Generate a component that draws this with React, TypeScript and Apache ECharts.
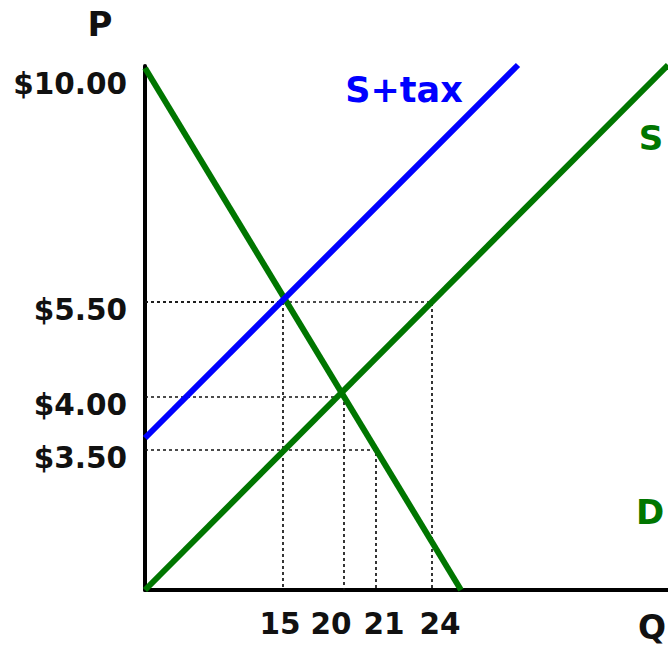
import React, { useEffect, useRef } from "react";
import * as echarts from "echarts";

// Schematic (not-to-scale) tax-incidence diagram.
// Values are placed at positions on the drawn axes (diagram units).
const priceLabels = ["$3.50", "$4.00", "$5.50", "$10.00"];
const pricePositions = [14.0, 19.3, 28.8, 52.2];
const quantityLabels = ["15", "20", "21", "24"];
const quantityPositions = [13.8, 19.9, 23.1, 28.7];

// Curves (diagram units): [quantity position, price position]
const demandPoints = [
  [0, 52.2],
  [31.6, 0],
];
const supplyPoints = [
  [0, 0],
  [52.3, 52.5],
];
const supplyTaxPoints = [
  [0, 15.2],
  [37.3, 52.5],
];

// Dotted guides: [quantity label, price label]
const guidePairs = [
  ["15", "$5.50"],
  ["24", "$5.50"],
  ["20", "$4.00"],
  ["21", "$3.50"],
];

const FONT = "'DejaVu Sans', Verdana, sans-serif";
const GREEN = "#007600";
const BLUE = "#0000ff";

const qPos = (q: string) => quantityPositions[quantityLabels.indexOf(q)];
const pPos = (p: string) => pricePositions[priceLabels.indexOf(p)];

export default function App() {
  const ref = useRef<HTMLDivElement>(null);

  useEffect(() => {
    if (!ref.current) return;
    const chart = echarts.init(ref.current, undefined, { renderer: "svg" });

    const guideSeries = guidePairs.map(([q, p]) => {
      const x = qPos(q);
      const y = pPos(p);
      return {
        type: "line",
        data: [
          [0, y],
          [x, y],
          [x, 0],
        ],
        symbol: "none",
        silent: true,
        z: 1,
        lineStyle: { color: "#111", width: 1.7, type: [3, 3] },
      };
    });

    const numStyle = { fontFamily: FONT, fontWeight: "bold", fontSize: 29.5, color: "#111" };

    const yRichKey = (label: string) => (label === "$10.00" ? "pTop" : "p");
    const xRichKey: Record<string, string> = { "15": "q15", "20": "q20", "21": "q21", "24": "q24" };

    const option: any = {
      animation: false,
      grid: { left: 145, right: 0, top: 66, bottom: 55, containLabel: false },
      xAxis: {
        type: "value",
        min: 0,
        max: 52.3,
        splitLine: { show: false },
        axisTick: { show: false },
        axisLine: { show: true, lineStyle: { color: "#000", width: 4 } },
        axisLabel: {
          customValues: quantityPositions,
          margin: 34,
          verticalAlign: "middle",
          showMinLabel: true,
          showMaxLabel: true,
          formatter: (v: number) => {
            const i = quantityPositions.findIndex((p) => Math.abs(p - v) < 1e-6);
            if (i < 0) return "";
            const l = quantityLabels[i];
            return `{${xRichKey[l]}|${l}}`;
          },
          rich: {
            q15: { ...numStyle, padding: [0, 6, 0, 0] },
            q20: { ...numStyle, padding: [0, 26, 0, 0] },
            q21: { ...numStyle, padding: [0, 0, 0, 16] },
            q24: { ...numStyle, padding: [0, 0, 0, 16] },
          },
        },
      },
      yAxis: {
        type: "value",
        min: 0,
        max: 52.4,
        splitLine: { show: false },
        axisTick: { show: false },
        axisLine: { show: true, lineStyle: { color: "#000", width: 4 } },
        axisLabel: {
          customValues: pricePositions,
          margin: 18,
          verticalAlign: "middle",
          showMinLabel: true,
          showMaxLabel: true,
          formatter: (v: number) => {
            const i = pricePositions.findIndex((p) => Math.abs(p - v) < 1e-6);
            if (i < 0) return "";
            const l = priceLabels[i];
            return `{${yRichKey(l)}|${l}}`;
          },
          rich: {
            p: { ...numStyle, padding: [16, 0, 0, 0] },
            pTop: { ...numStyle, padding: [31, 0, 0, 0] },
          },
        },
      },
      series: [
        ...guideSeries,
        {
          name: "D",
          type: "line",
          data: demandPoints,
          symbol: "none",
          z: 3,
          clip: false,
          lineStyle: { color: GREEN, width: 6 },
        },
        {
          name: "S",
          type: "line",
          data: supplyPoints,
          symbol: "none",
          z: 3,
          clip: false,
          lineStyle: { color: GREEN, width: 6 },
        },
        {
          name: "S+tax",
          type: "line",
          data: supplyTaxPoints,
          symbol: "none",
          z: 4,
          clip: false,
          lineStyle: { color: BLUE, width: 6 },
        },
      ],
      graphic: [
        {
          type: "text",
          x: 100,
          y: 24,
          style: { text: "P", fontFamily: FONT, fontWeight: "bold", fontSize: 34, fill: "#111", align: "center", verticalAlign: "middle" },
        },
        {
          type: "text",
          x: 652,
          y: 627,
          style: { text: "Q", fontFamily: FONT, fontWeight: "bold", fontSize: 33, fill: "#111", align: "center", verticalAlign: "middle" },
        },
        {
          type: "text",
          x: 651,
          y: 138,
          style: { text: "S", fontFamily: FONT, fontWeight: "bold", fontSize: 34, fill: GREEN, align: "center", verticalAlign: "middle" },
        },
        {
          type: "text",
          x: 650,
          y: 512,
          style: { text: "D", fontFamily: FONT, fontWeight: "bold", fontSize: 34, fill: GREEN, align: "center", verticalAlign: "middle" },
        },
        {
          type: "text",
          x: 404,
          y: 90,
          style: { text: "S+tax", fontFamily: FONT, fontWeight: "bold", fontSize: 35, fill: BLUE, align: "center", verticalAlign: "middle" },
        },
      ],
    };

    chart.setOption(option);
    return () => chart.dispose();
  }, []);

  return (
    <div
      ref={ref}
      style={{ position: "absolute", left: 0, top: 0, width: 668, height: 645, background: "#fff" }}
    />
  );
}
